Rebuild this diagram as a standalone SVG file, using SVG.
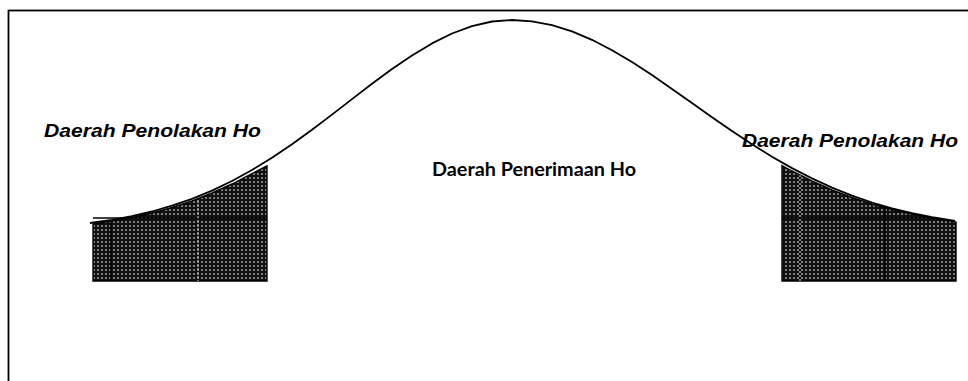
<svg xmlns="http://www.w3.org/2000/svg" width="968" height="381" viewBox="0 0 968 381">
<style>
.frame{fill:none;stroke:#000;stroke-width:1.8}
.curve{fill:none;stroke:#000;stroke-width:1.8;stroke-linejoin:round}
.shade{fill:url(#dots);stroke:#000;stroke-width:1.4}
.grid{stroke:#000;stroke-width:1.4}
.gridw{stroke:#d8d8d8;stroke-width:1;stroke-dasharray:2 2}
.lbl{font-family:"Liberation Sans",Arial,sans-serif;font-weight:bold;font-style:italic;font-size:19px;fill:#000}
.mid{font-family:Lato,"Liberation Sans",sans-serif;font-weight:bold;font-size:18px;fill:#000}
</style>
<defs>
<pattern id="dots" width="4" height="4" patternUnits="userSpaceOnUse">
<rect width="4" height="4" fill="#101010"/>
<circle cx="2" cy="2" r="1.1" fill="#7a7a7a"/>
<circle cx="2" cy="2" r="0.5" fill="#d8d8d8"/>
</pattern>
</defs>
<rect class="frame" x="8.5" y="10.5" width="990" height="400"/>
<g id="region-left">
<path class="shade" d="M93,224 L112,221 L132,217.5 L152,213 L172,207.5 L192,201 L212,193 L232,184 L252,173.5 L267,166 L267,281 L93,281 Z"/>
<line class="grid" x1="93" y1="218" x2="267" y2="218"/>
<line class="grid" x1="111" y1="221" x2="111" y2="281"/>
<line class="gridw" x1="198" y1="200" x2="198" y2="281"/>
</g>
<g id="region-right">
<path class="shade" d="M782,165.5 L792,171 L812,181 L832,190 L852,197.5 L872,204 L892,209.5 L912,214 L932,218 L956,222 L956,281 L782,281 Z"/>
<line class="grid" x1="782" y1="218" x2="932" y2="218"/>
<line class="grid" x1="885" y1="207" x2="885" y2="281"/>
<line class="gridw" x1="800" y1="175" x2="800" y2="281"/>
</g>
<g id="connectors">
<path class="curve" d="M90,223 L112,219.8 L132,216.1 L152,211.5 L172,205.7 L192,198.8 L212,190.6 L232,181 L252,170 L272,157.7 L292,144.3 L312,129.8 L332,114.6 L352,99.1 L372,83.8 L392,69 L412,55.4 L432,43.4 L452,33.5 L472,26.1 L492,21.5 L512,20 L532,21.3 L552,25.1 L572,31.4 L592,39.8 L612,50.2 L632,62.1 L652,75.1 L672,88.9 L692,103 L712,117.2 L732,131 L752,144.3 L772,156.7 L792,168.1 L812,178.4 L832,187.6 L852,195.6 L872,202.5 L892,208.3 L912,213.1 L932,217.1 L955,220.8"/>
</g>
<g id="label-left"><text class="lbl" x="44" y="137" textLength="217" lengthAdjust="spacingAndGlyphs">Daerah Penolakan Ho</text></g>
<g id="label-mid"><text class="mid" x="432" y="176" textLength="204" lengthAdjust="spacingAndGlyphs">Daerah Penerimaan Ho</text></g>
<g id="label-right"><text class="lbl" x="742" y="147" textLength="216" lengthAdjust="spacingAndGlyphs">Daerah Penolakan Ho</text></g>
</svg>
